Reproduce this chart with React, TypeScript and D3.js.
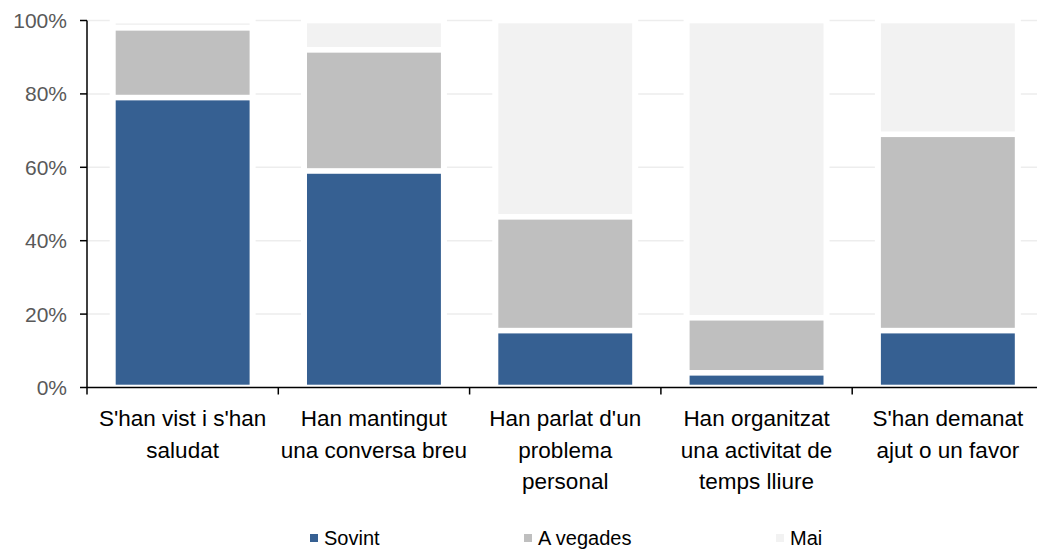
import React from 'react'
import * as d3 from 'd3'

// categories (two or three lines each, as in the picture)
const categories = [
  ["S'han vist i s'han", "saludat"],
  ["Han mantingut", "una conversa breu"],
  ["Han parlat d'un", "problema", "personal"],
  ["Han organitzat", "una activitat de", "temps lliure"],
  ["S'han demanat", "ajut o un favor"],
]

const seriesNames = ["Sovint", "A vegades", "Mai"]
const sovint = [79, 59, 15.5, 4, 15.5]
const aVegades = [19, 33, 31, 15, 53.5]
const mai = [2, 8, 53.5, 81, 31]
const colors = ["#366092", "#BFBFBF", "#F2F2F2"]

const yTicks = [0, 20, 40, 60, 80, 100]

const W = 1037
const H = 552
const margin = {left: 87, top: 20.5, bottom: 387.5}

export default function App() {
  const values = [sovint, aVegades, mai]

  const x = d3.scaleBand()
    .domain(categories.map((d, i) => String(i)))
    .range([margin.left, margin.left + 5 * 191.3])
    .paddingInner(0)

  const y = d3.scaleLinear()
    .domain([0, 100])
    .range([margin.bottom, margin.top])

  const barW = x.bandwidth() * 0.70
  const gap = 2.8

  // stacked segments
  const rows = categories.map((c, i) => {
    const r: any = {key: String(i)}
    seriesNames.forEach((s, j) => { r[s] = values[j][i] })
    return r
  })
  const stacked = d3.stack().keys(seriesNames)(rows)

  const legendX = [310, 524, 776]

  return (
    <div style={{position: 'fixed', left: 0, top: 0}}>
      <svg width={W} height={H} style={{display: 'block', background: '#fff'}}>
        {/* gridlines */}
        <g>
          {yTicks.filter(t => t > 0).map(t => (
            <line key={t} x1={margin.left + 1} x2={W} y1={y(t)} y2={y(t)}
              stroke="#EDEDED" strokeWidth={1.5} />
          ))}
        </g>

        {/* white background behind each bar hides the grid */}
        <g>
          {rows.map(r => {
            const bx = x(r.key)! + (x.bandwidth() - barW) / 2
            return <rect key={r.key} x={bx - 6} width={barW + 12} y={y(100) - 3}
              height={y(0) - y(100) + 2} fill="#fff" />
          })}
        </g>

        {/* bars */}
        <g>
          {stacked.map((layer, j) => (
            <g key={layer.key} fill={colors[j]}>
              {layer.map((d, i) => {
                const bx = x(String(i))! + (x.bandwidth() - barW) / 2
                const top = y(d[1]) + gap
                const bottom = y(d[0]) - gap
                return <rect key={i} x={bx} width={barW} y={top}
                  height={Math.max(0, bottom - top)} />
              })}
            </g>
          ))}
        </g>

        {/* y axis */}
        <g>
          <line x1={margin.left} x2={margin.left} y1={y(100)} y2={y(0)} stroke="#000" strokeWidth={1.5} />
          {yTicks.map(t => (
            <g key={t}>
              <line x1={margin.left - 7} x2={margin.left} y1={y(t)} y2={y(t)} stroke="#000" strokeWidth={1.5} />
              <text x={67} y={y(t)} dy="0.36em" textAnchor="end"
                fontFamily="Liberation Sans, Arial, sans-serif" fontSize={21} fill="#595959">{t}%</text>
            </g>
          ))}
        </g>

        {/* x axis */}
        <g>
          <line x1={margin.left} x2={W} y1={y(0)} y2={y(0)} stroke="#000" strokeWidth={1.5} />
          {categories.map((c, i) => (
            <line key={i} x1={x(String(i))!} x2={x(String(i))!} y1={y(0)} y2={y(0) + 7}
              stroke="#000" strokeWidth={1.5} />
          ))}
          {categories.map((lines, i) => (
            <text key={i} textAnchor="middle" fontFamily="Liberation Sans, Arial, sans-serif"
              fontSize={22.5} fill="#000">
              {lines.map((l, k) => (
                <tspan key={k} x={x(String(i))! + x.bandwidth() / 2} y={426 + k * 31.5}>{l}</tspan>
              ))}
            </text>
          ))}
        </g>

        {/* legend */}
        <g fontFamily="Liberation Sans, Arial, sans-serif" fontSize={20} fill="#000">
          {seriesNames.map((s, j) => (
            <g key={s}>
              <rect x={legendX[j]} y={534} width={8} height={8} fill={colors[j]} />
              <text x={legendX[j] + 14} y={538} dy="0.36em">{s}</text>
            </g>
          ))}
        </g>
      </svg>
    </div>
  )
}
